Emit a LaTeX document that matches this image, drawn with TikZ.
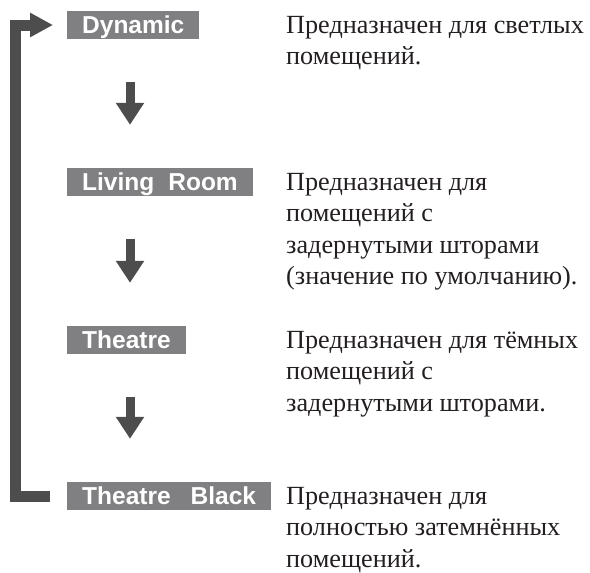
\documentclass[tikz,border=0pt]{standalone}
\usepackage{fontspec}
\setmainfont{Liberation Serif}
\newfontfamily\labelfont{Liberation Sans}
\usetikzlibrary{arrows.meta}
\definecolor{boxgray}{HTML}{808082}
\definecolor{arrowgray}{HTML}{4D4D4D}
\definecolor{inkgray}{HTML}{231F20}

\begin{document}
\begin{tikzpicture}[x=1pt, y=-1pt,
		mode/.style={fill=boxgray, text=white, anchor=west, inner xsep=15pt, inner ysep=5pt,
			text height=17pt, text depth=1pt, font=\labelfont\bfseries\fontsize{24.5}{28}\selectfont},
		desc/.style={anchor=north west, yshift=20pt, align=left, inner sep=0pt, text=inkgray,
			font=\fontsize{26.2}{31.5}\selectfont},
		next/.style={arrowgray, line width=9pt, -{Triangle[width=27pt,length=22pt]},
			shorten <=43pt, shorten >=43pt},
		back/.style={arrowgray, line width=11pt, -{Triangle[width=23pt,length=23pt]},
			shorten <=17pt, shorten >=14pt}]
		\useasboundingbox (0,0) rectangle (590,573);
		\coordinate (col) at (286,0);
		
		\node[mode] (dyn) at (67,25) {Dynamic};
		\node[mode] (liv) at (67,182) {Living\hspace{14pt}Room};
		\node[mode] (thr) at (67,340) {Theatre};
		\node[mode] (thb) at (67,496) {Theatre\hspace{20pt}Black};
		
		% strut keeps the first baseline level with the box text
		\node[desc] (dyntxt) at (dyn.base -| col) {\rule{0pt}{20pt}Предназначен для светлых\\помещений.};
		\node[desc] (livtxt) at (liv.base -| col) {\rule{0pt}{20pt}Предназначен для\\помещений с\\задернутыми шторами\\(значение по умолчанию).};
		\node[desc] (thrtxt) at (thr.base -| col) {\rule{0pt}{20pt}Предназначен для тёмных\\помещений с\\задернутыми шторами.};
		\node[desc] (thbtxt) at (thb.base -| col) {\rule{0pt}{20pt}Предназначен для\\полностью затемнённых\\помещений.};
		
		\draw[next] ([xshift=63pt]dyn.south west) -- ([xshift=63pt]liv.north west);
		\draw[next] ([xshift=63pt]liv.south west) -- ([xshift=63pt]thr.north west);
		\draw[next] ([xshift=63pt]thr.south west) -- ([xshift=63pt]thb.north west);
		\draw[back] (thb.west) -| ([xshift=-51.5pt]dyn.west) -- (dyn.west);
	\end{tikzpicture}
\end{document}
